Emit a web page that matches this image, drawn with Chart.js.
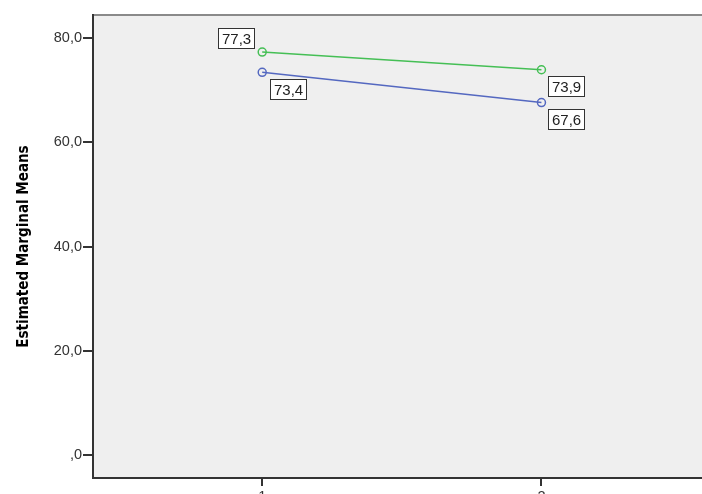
<!DOCTYPE html>
<html>
<head>
<meta charset="utf-8">
<script src="https://cdn.jsdelivr.net/npm/chart.js@4"></script>
<style>
  html, body { margin: 0; padding: 0; background: #fff; overflow: hidden; }
  #wrap { width: 760px; height: 515px; }
</style>
</head>
<body>
<div id="wrap"><canvas id="chart"></canvas></div>
<script>
// data
var xValues = [1, 2];
var xTickLabels = ['1', '2'];
var greenValues = [77.3, 73.9];
var blueValues = [73.4, 67.6];
var yTicks = [0, 20, 40, 60, 80];

function fmtComma(v) {
    var s = v.toFixed(1).replace('.', ',');
    if (s.indexOf('0,') === 0) s = s.substring(1);
    return s;
}

function toPoints(vals) {
    var pts = [];
    for (var i = 0; i < xValues.length; i++) {
        pts.push({ x: xValues[i], y: vals[i] });
    }
    return pts;
}

// box label offsets per dataset, per point (box top-left relative to point)
var labelOffsets = [
    [[-44, -24], [7, 6]],   // green
    [[8, 7], [7, 6]]        // blue
];

var framePlugin = {
    id: 'frame',
    beforeDraw: function(chart) {
        var a = chart.chartArea, ctx = chart.ctx;
        ctx.save();
        ctx.fillStyle = '#efefef';
        ctx.fillRect(a.left, a.top, a.right - a.left, a.bottom - a.top);
        ctx.restore();
    },
    afterDraw: function(chart) {
        var a = chart.chartArea, ctx = chart.ctx;
        ctx.save();
        ctx.strokeStyle = '#8a8a8a';
        ctx.lineWidth = 2;
        ctx.beginPath();
        ctx.moveTo(a.left, a.top);
        ctx.lineTo(a.right + 5, a.top);
        ctx.stroke();
        ctx.strokeStyle = '#333';
        ctx.lineWidth = 2;
        ctx.beginPath();
        ctx.moveTo(a.left, a.top - 1);
        ctx.lineTo(a.left, a.bottom);
        ctx.lineTo(a.right + 5, a.bottom);
        ctx.stroke();

        // value boxes
        ctx.font = '15px "Liberation Sans", Arial, sans-serif';
        ctx.textBaseline = 'middle';
        ctx.textAlign = 'left';
        chart.data.datasets.forEach(function(ds, di) {
            var meta = chart.getDatasetMeta(di);
            meta.data.forEach(function(pt, i) {
                var off = labelOffsets[di][i];
                var txt = fmtComma(ds.data[i].y);
                var w = Math.round(ctx.measureText(txt).width) + 7;
                var h = 20;
                var bx = Math.round(pt.x + off[0]) + 0.5;
                var by = Math.round(pt.y + off[1]) + 0.5;
                ctx.fillStyle = '#fff';
                ctx.fillRect(bx, by, w, h);
                ctx.strokeStyle = '#333';
                ctx.lineWidth = 1;
                ctx.strokeRect(bx, by, w, h);
                ctx.fillStyle = '#222';
                ctx.fillText(txt, bx + 3.5, by + h / 2 + 1);
            });
        });
        ctx.restore();
    }
};

var ctx = document.getElementById('chart').getContext('2d');
new Chart(ctx, {
    type: 'line',
    data: {
        datasets: [{
            label: 'green',
            data: toPoints(greenValues),
            borderColor: '#45bf55',
            borderWidth: 1.5,
            pointRadius: 4,
            pointBorderWidth: 1.5,
            pointBackgroundColor: 'rgba(0,0,0,0)',
            pointBorderColor: '#45bf55',
            tension: 0
        }, {
            label: 'blue',
            data: toPoints(blueValues),
            borderColor: '#5468c0',
            borderWidth: 1.5,
            pointRadius: 4,
            pointBorderWidth: 1.5,
            pointBackgroundColor: 'rgba(0,0,0,0)',
            pointBorderColor: '#5468c0',
            tension: 0
        }]
    },
    options: {
        responsive: true,
        maintainAspectRatio: false,
        animation: false,
        layout: { padding: { top: 15, right: 0, left: 0, bottom: 0 } },
        plugins: { legend: { display: false }, tooltip: { enabled: false } },
        scales: {
            x: {
                type: 'linear',
                min: 0.394,
                max: 2.763,
                afterBuildTicks: function(scale) {
                    scale.ticks = xValues.map(function(v) { return { value: v }; });
                },
                afterFit: function(scale) { scale.height = 37; },
                grid: { display: false },
                border: { display: false },
                ticks: {
                    callback: function(v) {
                        var i = xValues.indexOf(v);
                        return i >= 0 ? xTickLabels[i] : '';
                    },
                    color: '#333',
                    font: { size: 14.5, family: '"Liberation Sans", Arial, sans-serif' },
                    padding: 2,
                    maxRotation: 0
                }
            },
            y: {
                min: -4.4,
                max: 84.4,
                afterBuildTicks: function(scale) {
                    scale.ticks = yTicks.map(function(v) { return { value: v }; });
                },
                afterFit: function(scale) { scale.width = 93; },
                grid: { display: false },
                border: { display: false },
                title: {
                    display: true,
                    text: 'Estimated Marginal Means',
                    color: '#000',
                    font: { size: 15, weight: 'bold', family: '"Liberation Sans Narrow", "Arial Narrow", "DejaVu Sans Condensed", sans-serif' },
                    padding: { top: 15, bottom: 0 }
                },
                ticks: {
                    callback: function(v) { return fmtComma(v); },
                    color: '#333',
                    font: { size: 14.5, family: '"Liberation Sans", Arial, sans-serif' },
                    padding: 3
                }
            }
        }
    },
    plugins: [framePlugin, {
        id: 'tickMarks',
        afterDraw: function(chart) {
            var a = chart.chartArea, c = chart.ctx;
            var ys = chart.scales.y, xs = chart.scales.x;
            c.save();
            c.strokeStyle = '#333';
            c.lineWidth = 2;
            yTicks.forEach(function(v) {
                var py = Math.round(ys.getPixelForValue(v));
                c.beginPath();
                c.moveTo(a.left - 10, py);
                c.lineTo(a.left, py);
                c.stroke();
            });
            xValues.forEach(function(v) {
                var px = Math.round(xs.getPixelForValue(v));
                c.beginPath();
                c.moveTo(px, a.bottom);
                c.lineTo(px, a.bottom + 8);
                c.stroke();
            });
            c.restore();
        }
    }]
});
</script>
</body>
</html>
